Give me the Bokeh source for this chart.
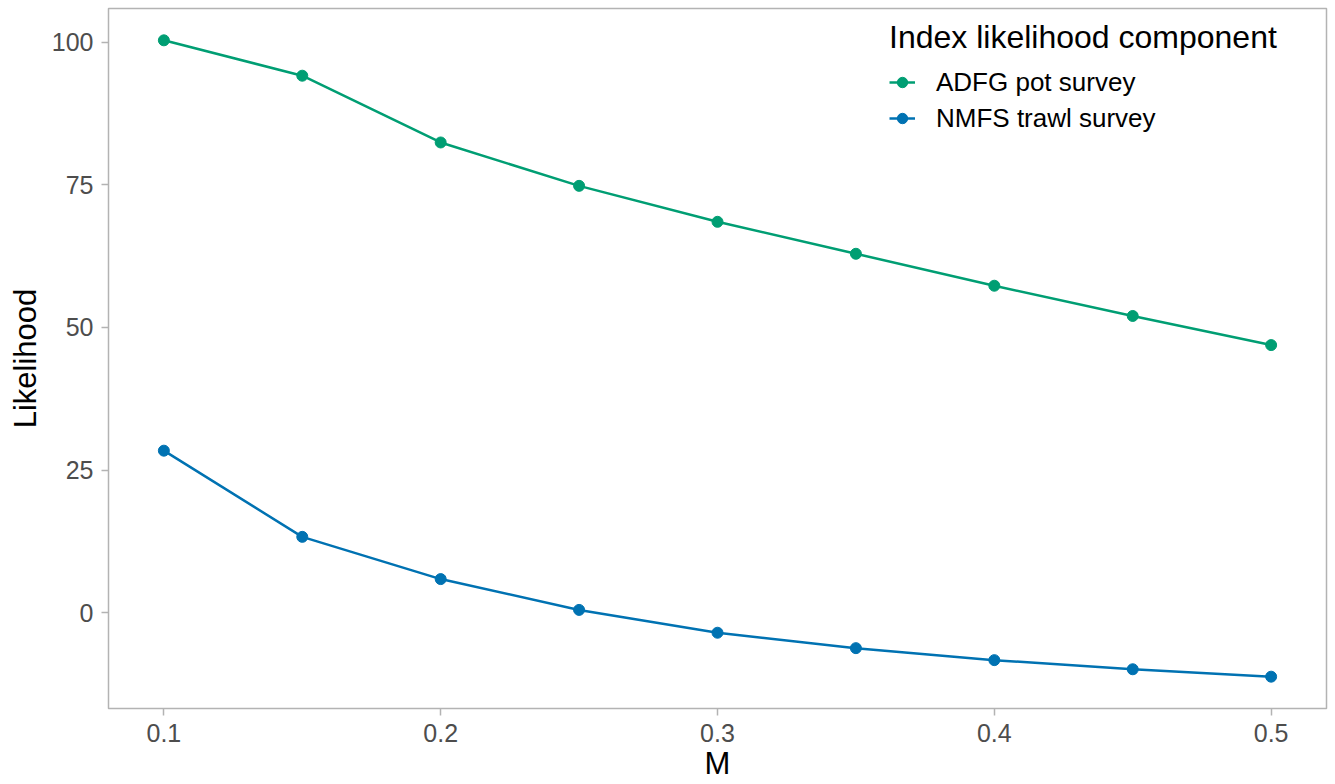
from bokeh.plotting import figure
from bokeh.models import Range1d, Legend, LegendItem, FixedTicker
from bokeh.embed import file_html
from bokeh.resources import INLINE

# Natural mortality values and index likelihood components
m_values = [0.10, 0.15, 0.20, 0.25, 0.30, 0.35, 0.40, 0.45, 0.50]
adfg_pot = [100.3, 94.1, 82.4, 74.8, 68.5, 62.9, 57.3, 52.0, 46.9]
nmfs_trawl = [28.4, 13.3, 5.9, 0.5, -3.5, -6.2, -8.3, -9.9, -11.2]
series_names = ["ADFG pot survey", "NMFS trawl survey"]
series_colors = ["#009E73", "#0072B2"]
x_ticks = [0.1, 0.2, 0.3, 0.4, 0.5]
y_ticks = [0, 25, 50, 75, 100]

FONT = "Liberation Sans"
BORDER = "#b3b3b3"

# ggplot-style 5% padding around the data
def padded(lo, hi, frac=0.05):
    span = hi - lo
    return lo - span * frac, hi + span * frac

x_lo, x_hi = padded(min(m_values), max(m_values))
y_lo, y_hi = padded(min(min(adfg_pot), min(nmfs_trawl)), max(max(adfg_pot), max(nmfs_trawl)))

p = figure(
    width=1335, height=784,
    x_range=Range1d(x_lo, x_hi), y_range=Range1d(y_lo, y_hi),
    output_backend="svg", toolbar_location=None,
    min_border_left=108, min_border_right=9, min_border_top=8, min_border_bottom=76,
)
p.background_fill_color = "white"
p.border_fill_color = "white"
p.outline_line_color = BORDER
p.outline_line_width = 1.5
p.xgrid.visible = False
p.ygrid.visible = False

renderers = []
for vals, color in zip([adfg_pot, nmfs_trawl], series_colors):
    ln = p.line(m_values, vals, line_color=color, line_width=2.5)
    pt = p.scatter(m_values, vals, size=11, fill_color=color, line_color=color)
    renderers.append([ln, pt])

for ax in (p.xaxis[0], p.yaxis[0]):
    ax.axis_line_color = None
    ax.major_tick_line_color = BORDER
    ax.major_tick_line_width = 1.5
    ax.major_tick_out = 7
    ax.major_tick_in = 0
    ax.minor_tick_line_color = None
    ax.major_label_text_font = FONT
    ax.major_label_text_font_size = "25px"
    ax.major_label_text_color = "#4d4d4d"
    ax.axis_label_text_font = FONT
    ax.axis_label_text_font_size = "31px"
    ax.axis_label_text_font_style = "normal"
    ax.axis_label_text_color = "black"

p.xaxis.ticker = FixedTicker(ticks=x_ticks)
p.yaxis.ticker = FixedTicker(ticks=y_ticks)
p.xaxis.major_label_overrides = {t: f"{t:.1f}" for t in x_ticks}
p.xaxis.axis_label = "M"
p.yaxis.axis_label = "Likelihood"
p.xaxis.major_label_standoff = 8
p.yaxis.major_label_standoff = 8
p.xaxis.axis_label_standoff = 1
p.yaxis.axis_label_standoff = 6

legend = Legend(
    items=[LegendItem(label=n, renderers=r) for n, r in zip(series_names, renderers)],
    title="Index likelihood component",
    location=(781, 572),
    orientation="vertical",
    padding=2, margin=0, spacing=0,
    glyph_width=26, glyph_height=36, label_height=36,
    label_standoff=21,
    title_standoff=8,
    border_line_color=None,
    background_fill_alpha=0,
)
legend.title_text_font = FONT
legend.title_text_font_size = "32px"
legend.title_text_font_style = "normal"
legend.title_text_color = "black"
legend.label_text_font = FONT
legend.label_text_font_size = "26px"
legend.label_text_color = "black"
p.add_layout(legend)

open("out.html", "w").write(file_html(p, INLINE))
